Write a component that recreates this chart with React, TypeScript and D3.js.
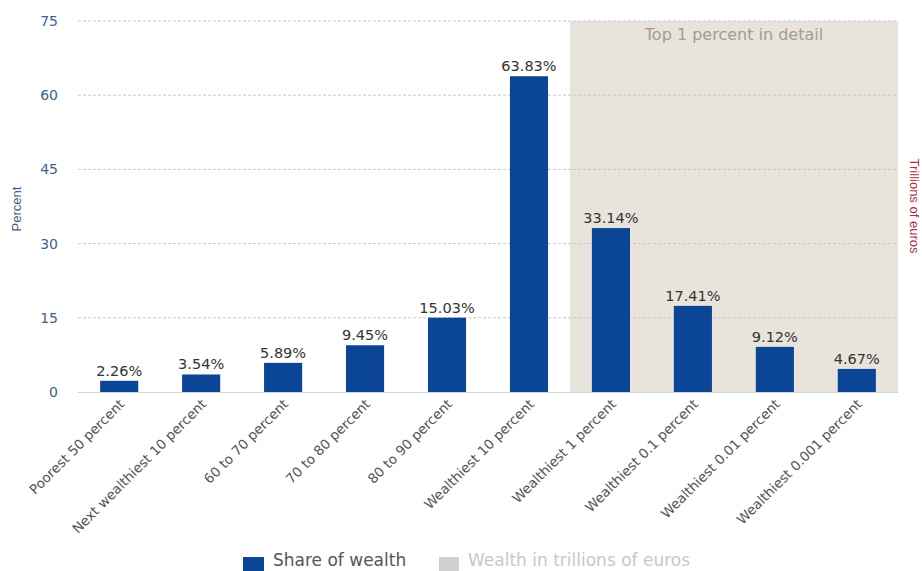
import React from "react";
import * as d3 from "d3";

const categories = [
  "Poorest 50 percent",
  "Next wealthiest 10 percent",
  "60 to 70 percent",
  "70 to 80 percent",
  "80 to 90 percent",
  "Wealthiest 10 percent",
  "Wealthiest 1 percent",
  "Wealthiest 0.1 percent",
  "Wealthiest 0.01 percent",
  "Wealthiest 0.001 percent",
];
const shareOfWealth = [2.26, 3.54, 5.89, 9.45, 15.03, 63.83, 33.14, 17.41, 9.12, 4.67];
const yTicks = [0, 15, 30, 45, 60, 75];
const detailStart = "Wealthiest 1 percent";

const W = 922;
const H = 571;
const margin = { left: 78, right: 24, top: 21, bottom: 179 };
const FONT = "'DejaVu Sans', Verdana, sans-serif";
const NARROW = "'Liberation Sans Narrow', 'Liberation Sans', Arial, sans-serif";

export default function App() {
  const x = d3
    .scaleBand<string>()
    .domain(categories)
    .range([margin.left, W - margin.right])
    .paddingInner(0.535)
    .paddingOuter(0.27);
  const y = d3.scaleLinear().domain([0, 75]).range([H - margin.bottom, margin.top]);
  const step = x.step();
  const shadeX = (x(detailStart) as number) - (step * 0.535) / 2;
  const plotRight = W - margin.right;

  return (
    <svg
      width={W}
      height={H}
      style={{ position: "absolute", left: 0, top: 0, fontFamily: FONT, background: "#fff" }}
    >
      <rect x={shadeX} y={margin.top} width={plotRight - shadeX} height={y(0) - margin.top} fill="#e8e4dc" />
      {yTicks.map((t) => (
        <g key={t}>
          {t > 0 && (
            <line
              x1={margin.left}
              x2={plotRight}
              y1={y(t)}
              y2={y(t)}
              stroke="#c8c8c8"
              strokeWidth={1}
              strokeDasharray="3,2"
            />
          )}
          <text x={58} y={y(t)} dy="0.35em" textAnchor="end" fontSize={14} fill="#3f5f8a">
            {t}
          </text>
        </g>
      ))}
      <line x1={margin.left} x2={plotRight} y1={y(0) + 0.5} y2={y(0) + 0.5} stroke="#c5d3e3" strokeWidth={1} />
      <text x={734} y={40} textAnchor="middle" fontSize={16} fill="#a59c88">
        Top 1 percent in detail
      </text>
      {categories.map((c, i) => {
        const bx = x(c) as number;
        const v = shareOfWealth[i];
        return (
          <g key={c}>
            <rect x={bx} y={y(v)} width={x.bandwidth()} height={y(0) - y(v)} fill="#0a4596" />
            <text
              x={bx + x.bandwidth() / 2}
              y={y(v) - 5}
              textAnchor="middle"
              fontSize={14.5}
              fill="#333"
            >
              {v.toFixed(2)}%
            </text>
            <text
              transform={`translate(${bx + x.bandwidth() / 2 + 6},${y(0) + 13}) rotate(-45)`}
              textAnchor="end"
              fontSize={13.5}
              fill="#555"
            >
              {c}
            </text>
          </g>
        );
      })}
      <text
        transform={`translate(21,209) rotate(-90)`}
        textAnchor="middle"
        fontSize={13}
        fontFamily={NARROW}
        fill="#3f5f8a"
      >
        Percent
      </text>
      <text
        transform={`translate(910,206) rotate(90)`}
        textAnchor="middle"
        fontSize={13}
        fontFamily={NARROW}
        fill="#b0303f"
      >
        Trillions of euros
      </text>
      <rect x={243} y={557} width={21} height={20} fill="#0a4596" />
      <text x={273} y={566} fontSize={17} fill="#555">
        Share of wealth
      </text>
      <rect x={439} y={557} width={20} height={20} fill="#cfcfcf" />
      <text x={468} y={566} fontSize={17} fill="#c8c8c8">
        Wealth in trillions of euros
      </text>
    </svg>
  );
}
